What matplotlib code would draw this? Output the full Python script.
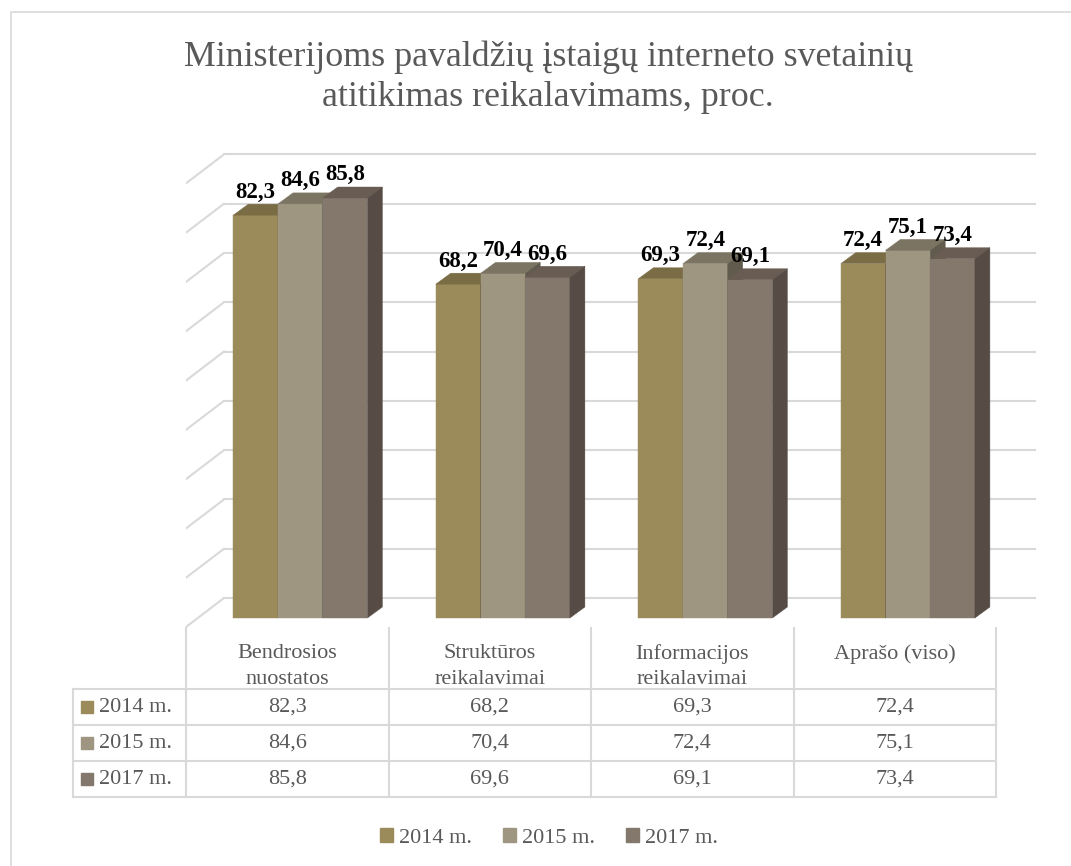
import numpy as np
import matplotlib.pyplot as plt
from matplotlib.patches import Polygon, Patch, Rectangle

plt.rcParams['font.family'] = ['Liberation Serif', 'DejaVu Serif']

# Duomenys
categories = ['Bendrosios\nnuostatos', 'Struktūros\nreikalavimai',
              'Informacijos\nreikalavimai', 'Aprašo (viso)']
series = ['2014 m.', '2015 m.', '2017 m.']
v2014 = [82.3, 68.2, 69.3, 72.4]
v2015 = [84.6, 70.4, 72.4, 75.1]
v2017 = [85.8, 69.6, 69.1, 73.4]
values = [v2014, v2015, v2017]
grid_levels = np.arange(0, 100, 10)

front_cols = ['#9B8A5A', '#9E9680', '#84776C']
top_cols = ['#7A6C45', '#7B7462', '#685C53']
side_cols = ['#5F5439', '#615B4D', '#564C45']
text_col = '#595959'
line_col = '#D9D9D9'

W, H = 1071, 866
col_px = 202.5      # pikseliai vienai kategorijai
unit_px = 4.895     # pikseliai vienam procentui


def box(x0, y0, x1, y1):
    return [x0 / W, 1 - y1 / H, (x1 - x0) / W, (y1 - y0) / H]


fig = plt.figure(figsize=(W / 100, H / 100), dpi=100)

# rėmelis
fig.patches.append(Rectangle((11 / W, -0.01), 1.02, 1 - 12 / H + 0.01,
                             transform=fig.transFigure, fill=False,
                             ec=line_col, lw=1.2))

fig.text(548 / W, 1 - 40 / H,
         'Ministerijoms pavaldžių įstaigų interneto svetainių\n'
         'atitikimas reikalavimams, proc.',
         ha='center', va='top', fontsize=25.8, color=text_col, linespacing=1.3)

# --- 3D stulpeliai ---
ax = fig.add_axes(box(186, 150, 1036, 628))
x_right = -0.5 + 850 / col_px
ax.set_xlim(-0.5, x_right)
ax.set_ylim(-10 / unit_px, 468 / unit_px)
ax.axis('off')

# sienos ir tinklelis
wall_dx = 38 / col_px
wall_dy = 29 / unit_px
floor_back = 20 / unit_px
for g in grid_levels:
    yb = floor_back + g * 1.007
    ax.plot([-0.5 + wall_dx, x_right], [yb, yb], color=line_col, lw=1.5, zorder=1)
    ax.plot([-0.5, -0.5 + wall_dx], [yb - wall_dy, yb], color=line_col, lw=1.5, zorder=1)

bar_w = 44.7 / col_px
first_off = -0.156
ddx = 15 / col_px
ddy = 11 / unit_px
xs = np.arange(len(categories))

for j, vals in enumerate(values):
    pos = xs + first_off + j * bar_w
    ax.bar(pos, vals, width=bar_w, color=front_cols[j], ec=front_cols[j],
           lw=0.3, zorder=2 + j)
    for xc, v in zip(pos, vals):
        x0, x1 = xc - bar_w / 2, xc + bar_w / 2
        ax.add_patch(Polygon([(x0, v), (x0 + ddx, v + ddy), (x1 + ddx, v + ddy), (x1, v)],
                             closed=True, fc=top_cols[j], ec=top_cols[j], lw=0.3, zorder=2 + j))
        ax.add_patch(Polygon([(x1, 0), (x1 + ddx, ddy), (x1 + ddx, v + ddy), (x1, v)],
                             closed=True, fc=side_cols[j], ec=side_cols[j], lw=0.3, zorder=2 + j))
        ax.text(xc, v + 3.6, f'{v:.1f}'.replace('.', ','), ha='center', va='baseline',
                fontsize=16.5, fontweight='bold', color='black', zorder=10)

# --- duomenų lentelė ---
tab = fig.add_axes(box(73, 628, 996, 797))
tx0 = (73 - 186) / col_px - 0.5
tab.set_xlim(tx0, 3.5)
hdr = -61 / 36
tab.set_ylim(3, hdr)
tab.axis('off')

for r in range(4):
    tab.plot([tx0, 3.5], [r, r], color=line_col, lw=1.5, clip_on=False)
tab.plot([tx0, tx0], [0, 3], color=line_col, lw=1.5, clip_on=False)
for k in range(len(categories) + 1):
    tab.plot([k - 0.5, k - 0.5], [hdr, 3], color=line_col, lw=1.5, clip_on=False)

for i, cat in enumerate(categories):
    tab.text(i, hdr + 0.45, cat, ha='center', va='top', fontsize=16,
             color=text_col, linespacing=1.45)

for r, (name, vals) in enumerate(zip(series, values)):
    tab.plot([tx0 + 14 / col_px], [r + 0.5], marker='s', ms=8.5, color=front_cols[r],
             clip_on=False)
    tab.text(tx0 + 26 / col_px, r + 0.5, name, ha='left', va='center', fontsize=16,
             color=text_col)
    for i, v in enumerate(vals):
        tab.text(i, r + 0.5, f'{v:.1f}'.replace('.', ','), ha='center', va='center',
                 fontsize=16, color=text_col)

# --- legenda ---
handles = [Patch(color=c) for c in front_cols]
fig.legend(handles, series, loc='center', bbox_to_anchor=(549 / W, 1 - 838 / H),
           ncol=3, frameon=False, fontsize=16, labelcolor=text_col,
           handlelength=0.6, handleheight=0.6, handletextpad=0.25, columnspacing=1.4)

fig.savefig('out.png', dpi=100)
